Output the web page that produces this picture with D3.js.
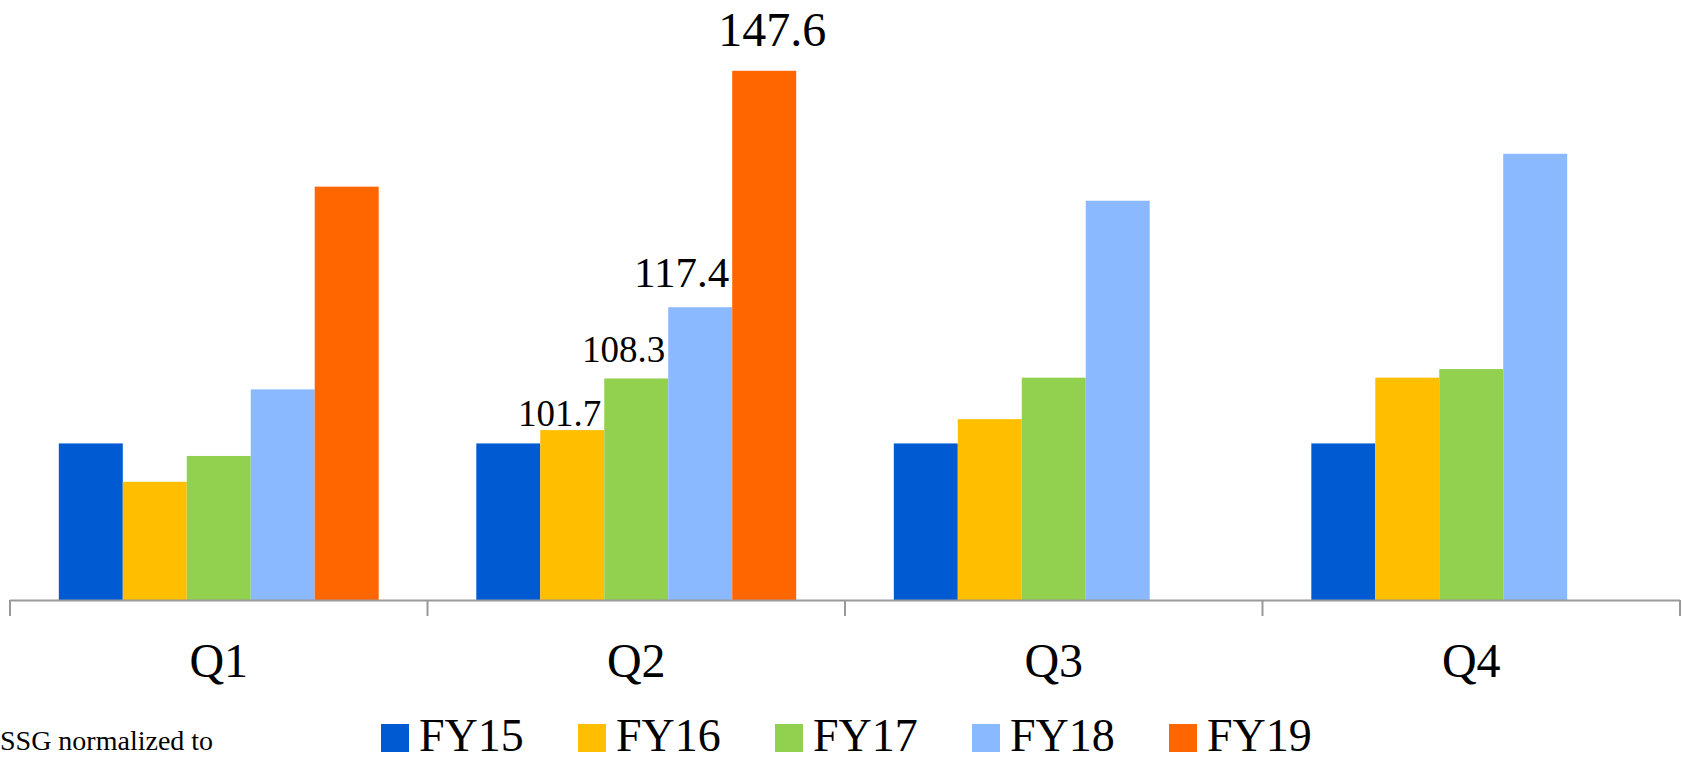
<!DOCTYPE html>
<html>
<head>
<meta charset="utf-8">
<script src="https://cdn.jsdelivr.net/npm/d3@7"></script>
<style>
    body { margin: 0; background: #fff; overflow: hidden; }
    #chart-area { width: 1684px; height: 761px; }
    text { font-family: "Liberation Serif", "Times New Roman", serif; fill: #000; }
</style>
</head>
<body>
<div id="chart-area"></div>
<script>

// categories and series
let quarters = ["Q1", "Q2", "Q3", "Q4"];
let years = ["FY15", "FY16", "FY17", "FY18", "FY19"];

// values per year, one per quarter (normalized, FY15 = 100)
let fy15 = [100, 100, 100, 100];
let fy16 = [95.1, 101.7, 103.1, 108.4];
let fy17 = [98.4, 108.3, 108.4, 109.5];
let fy18 = [106.9, 117.4, 131.0, 137.0];
let fy19 = [132.8, 147.6, null, null];

// value labels shown on the chart
let labelQuarter = ["Q2", "Q2", "Q2", "Q2"];
let labelYear = ["FY16", "FY17", "FY18", "FY19"];

let note = "SSG normalized to";


/* * * * * * * * * * * * * *
*          BarVis          *
* * * * * * * * * * * * * */

class BarVis {

    constructor(parentElement) {
        this.parentElement = parentElement;
        this.colors = ["#005bd3", "#ffbf00", "#92d050", "#8ab9ff", "#ff6600"];
        this.initVis();
    }

    initVis() {
        let vis = this;

        vis.width = 1684;
        vis.height = 761;

        vis.svg = d3.select("#" + vis.parentElement).append("svg")
            .attr("width", vis.width)
            .attr("height", vis.height);

        // quarter groups
        vis.x0 = d3.scaleBand()
            .domain(quarters)
            .range([10, 1680])
            .padding(0);

        // years inside a quarter
        vis.x1 = d3.scaleBand()
            .domain(years)
            .range([0, vis.x0.bandwidth()])
            .paddingInner(0)
            .paddingOuter(0.763);

        // axis does not start at zero
        vis.y = d3.scaleLinear()
            .domain([80, 150])
            .range([600, 52]);

        vis.wrangleData();
    }

    wrangleData() {
        let vis = this;

        let series = [fy15, fy16, fy17, fy18, fy19];
        vis.displayData = [];
        quarters.forEach((q, i) => {
            years.forEach((yr, j) => {
                if (series[j][i] != null) {
                    vis.displayData.push({quarter: q, year: yr, value: series[j][i], color: vis.colors[j]});
                }
            });
        });

        vis.labels = labelQuarter.map((q, i) => vis.displayData.find(d => d.quarter === q && d.year === labelYear[i]));

        vis.updateVis();
    }

    updateVis() {
        let vis = this;

        // bars
        vis.svg.append("g").selectAll("rect")
            .data(vis.displayData)
            .enter().append("rect")
            .attr("x", d => vis.x0(d.quarter) + vis.x1(d.year))
            .attr("y", d => vis.y(d.value))
            .attr("width", vis.x1.bandwidth())
            .attr("height", d => vis.y(80) - vis.y(d.value))
            .attr("fill", d => d.color);

        // category axis
        let xAxis = d3.axisBottom(vis.x0)
            .tickSize(0)
            .tickPadding(50);

        let axisG = vis.svg.append("g")
            .attr("transform", `translate(0, ${vis.y(80)})`)
            .call(xAxis);

        axisG.select(".domain")
            .attr("stroke", "#999")
            .attr("stroke-width", 2)
            .attr("d", `M10,0.5H1680`);

        axisG.selectAll(".tick text")
            .attr("font-size", 48)
            .attr("font-family", "Liberation Serif")
            .attr("y", 0)
            .attr("dy", 77);

        // dividers between quarters
        let bounds = quarters.map(q => vis.x0(q)).concat([vis.x0.range()[1]]);
        axisG.selectAll(".divider")
            .data(bounds)
            .enter().append("line")
            .attr("class", "divider")
            .attr("x1", d => d).attr("x2", d => d)
            .attr("y1", 0).attr("y2", 16)
            .attr("stroke", "#999")
            .attr("stroke-width", 2);

        // value labels (sizes grow with the bar, as in the original slide)
        let sizes = [37, 37, 43, 48];
        let lift = [4, 16, 20, 25];
        vis.svg.append("g").selectAll("text")
            .data(vis.labels)
            .enter().append("text")
            .attr("x", (d, i) => {
                let x = vis.x0(d.quarter) + vis.x1(d.year);
                return i < 3 ? x + vis.x1.bandwidth() - 3 : x + vis.x1.bandwidth() / 2 + 8;
            })
            .attr("y", (d, i) => vis.y(d.value) - lift[i])
            .attr("text-anchor", (d, i) => i < 3 ? "end" : "middle")
            .attr("font-size", (d, i) => sizes[i])
            .text(d => d.value.toFixed(1));

        // legend
        let legend = vis.svg.append("g")
            .attr("transform", "translate(381, 724)");

        let item = legend.selectAll("g")
            .data(years)
            .enter().append("g")
            .attr("transform", (d, i) => `translate(${i * 197}, 0)`);

        item.append("rect")
            .attr("width", 28)
            .attr("height", 28)
            .attr("fill", (d, i) => vis.colors[i]);

        item.append("text")
            .attr("x", 38)
            .attr("y", 27)
            .attr("font-size", 46)
            .text(d => d);

        // note bottom left
        vis.svg.append("text")
            .attr("x", 0)
            .attr("y", 750)
            .attr("font-size", 28)
            .text(note);
    }
}

let barVis = new BarVis("chart-area");
</script>
</body>
</html>
